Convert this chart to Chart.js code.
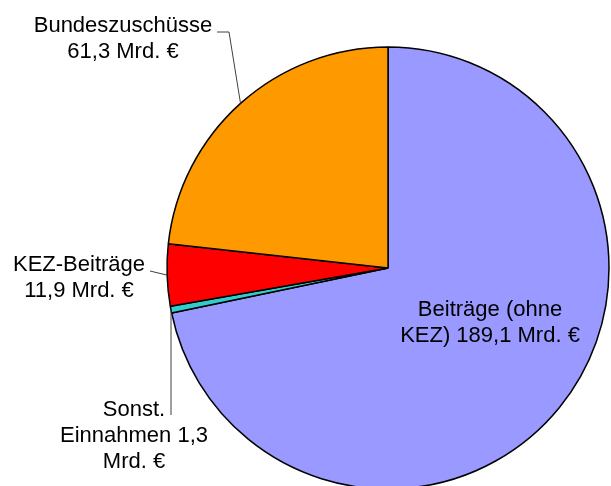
<!DOCTYPE html>
<html>
<head>
<meta charset="utf-8">
<script src="https://cdn.jsdelivr.net/npm/chart.js@4"></script>
<style>
  html, body { margin: 0; padding: 0; overflow: hidden; background: #fff; }
  #wrap { position: relative; width: 611px; height: 520px; }
</style>
</head>
<body>
<div id="wrap"><canvas id="pieChart"></canvas></div>
<script>
// data
const categories = ["Beiträge (ohne KEZ)", "Sonst. Einnahmen", "KEZ-Beiträge", "Bundeszuschüsse"];
const values = [189.1, 1.3, 11.9, 61.3];
const colors = ["#9999ff", "#33cccc", "#ff0000", "#ff9900"];

function fmt(v) {
  return v.toFixed(1).replace(".", ",");
}

// label text, split the way the original wraps it
const labelLines = [
  ["Beiträge (ohne", "KEZ) " + fmt(values[0]) + " Mrd. €"],
  ["Sonst.", "Einnahmen " + fmt(values[1]), "Mrd. €"],
  ["KEZ-Beiträge", fmt(values[2]) + " Mrd. €"],
  ["Bundeszuschüsse", fmt(values[3]) + " Mrd. €"],
];

// where the labels sit (center x, first baseline) and the bend points of the leader lines
const labelPos = [
  { x: 490, y: 316, leader: null },
  { x: 134, y: 416, leader: [[171, 415]] },
  { x: 79, y: 271, leader: [[150, 271]] },
  { x: 123, y: 32, leader: [[217, 32], [229, 32]] },
];

const sliceLabels = {
  id: "sliceLabels",
  afterDatasetsDraw(chart) {
    const ctx = chart.ctx;
    const arcs = chart.getDatasetMeta(0).data;
    ctx.save();
    arcs.forEach((arc, i) => {
      const pos = labelPos[i];
      if (pos.leader) {
        const mid = (arc.startAngle + arc.endAngle) / 2;
        let ax = arc.x + Math.cos(mid) * arc.outerRadius;
        let ay = arc.y + Math.sin(mid) * arc.outerRadius;
        ctx.strokeStyle = "#404040";
        ctx.lineWidth = 1;
        ctx.beginPath();
        ctx.moveTo(pos.leader[0][0], pos.leader[0][1]);
        pos.leader.slice(1).forEach((p) => ctx.lineTo(p[0], p[1]));
        if (i === 1) ax = pos.leader[0][0]; // straight vertical line
        ctx.lineTo(ax, ay);
        ctx.stroke();
      }
      ctx.fillStyle = "#000";
      ctx.font = "22px 'Liberation Sans', Arial, sans-serif";
      ctx.textAlign = "center";
      ctx.textBaseline = "alphabetic";
      labelLines[i].forEach((line, k) => {
        ctx.fillText(line, pos.x, pos.y + k * 26);
      });
    });
    ctx.restore();
  },
};

new Chart(document.getElementById("pieChart"), {
  type: "pie",
  data: {
    labels: categories,
    datasets: [
      {
        data: values,
        backgroundColor: colors,
        borderColor: "#000",
        borderWidth: 1.5,
        radius: 221,
      },
    ],
  },
  options: {
    responsive: true,
    maintainAspectRatio: false,
    animation: false,
    layout: {
      padding: { left: 167, right: 2, top: 47, bottom: 31 },
    },
    plugins: {
      legend: { display: false },
      tooltip: { enabled: false },
    },
  },
  plugins: [sliceLabels],
});
</script>
</body>
</html>
